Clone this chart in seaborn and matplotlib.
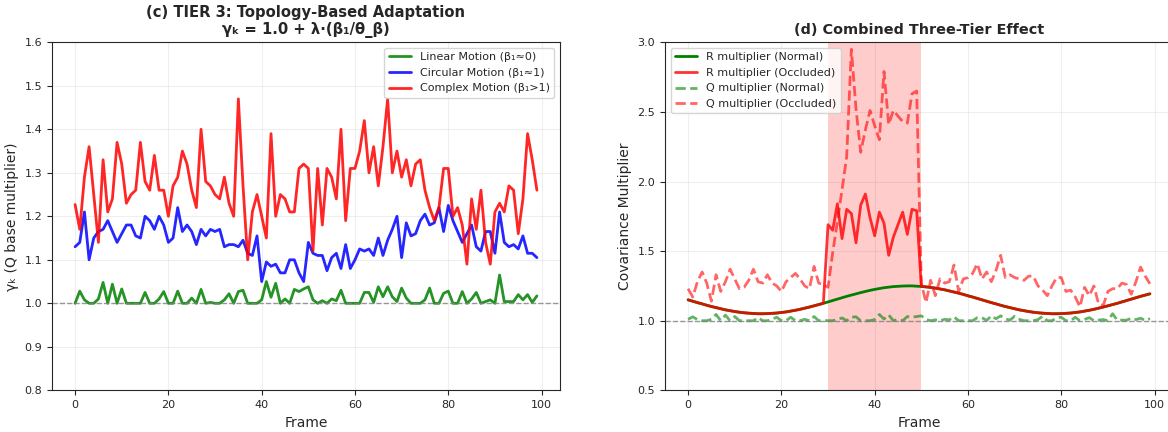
import numpy as np
import matplotlib
matplotlib.use("Agg")
from matplotlib import pyplot as plt
import seaborn as sns

frames = np.arange(100)

# panel (c): topology based gamma per motion type
linear_motion = [1.0, 1.028, 1.008, 1.0, 1.0, 1.01, 1.048, 1.0, 1.044, 1.0,
                 1.033, 1.0, 1.0, 1.0, 1.0, 1.025, 1.0, 1.0, 1.01, 1.027,
                 1.0, 1.0, 1.028, 1.0, 1.0, 1.012, 1.0, 1.032, 1.0, 1.002,
                 1.0, 1.0, 1.008, 1.022, 1.0, 1.027, 1.03, 1.0, 1.0, 1.0,
                 1.008, 1.05, 1.014, 1.046, 1.0, 1.01, 1.0, 1.032, 1.027, 1.033,
                 1.038, 1.008, 1.0, 1.006, 1.0, 1.01, 1.006, 1.03, 1.0, 1.0,
                 1.0, 1.0, 1.025, 1.025, 1.002, 1.038, 1.015, 1.038, 1.015, 1.004,
                 1.035, 1.012, 1.0, 1.0, 1.0, 1.008, 1.035, 1.0, 1.0, 1.023,
                 1.028, 1.0, 1.0, 1.027, 1.0, 1.01, 1.025, 1.0, 1.004, 1.008,
                 1.0, 1.065, 1.004, 1.004, 1.004, 1.02, 1.008, 1.02, 1.002, 1.017]

circular_motion = [1.13, 1.14, 1.21, 1.10, 1.15, 1.165, 1.17, 1.19, 1.165, 1.14,
                   1.16, 1.18, 1.18, 1.155, 1.15, 1.20, 1.19, 1.17, 1.20, 1.18,
                   1.14, 1.15, 1.22, 1.165, 1.18, 1.165, 1.135, 1.17, 1.155, 1.17,
                   1.165, 1.17, 1.13, 1.135, 1.135, 1.13, 1.145, 1.115, 1.11, 1.155,
                   1.05, 1.095, 1.085, 1.09, 1.07, 1.07, 1.10, 1.10, 1.07, 1.05,
                   1.14, 1.115, 1.11, 1.11, 1.075, 1.105, 1.115, 1.08, 1.135, 1.08,
                   1.10, 1.125, 1.12, 1.125, 1.11, 1.15, 1.11, 1.145, 1.17, 1.20,
                   1.105, 1.185, 1.155, 1.16, 1.19, 1.205, 1.18, 1.185, 1.22, 1.165,
                   1.225, 1.19, 1.165, 1.14, 1.16, 1.18, 1.13, 1.12, 1.165, 1.165,
                   1.115, 1.21, 1.14, 1.13, 1.135, 1.125, 1.155, 1.115, 1.115, 1.105]

complex_motion = [1.227, 1.17, 1.29, 1.36, 1.25, 1.14, 1.33, 1.21, 1.24, 1.37,
                  1.32, 1.23, 1.25, 1.26, 1.37, 1.28, 1.26, 1.34, 1.26, 1.26,
                  1.20, 1.27, 1.29, 1.35, 1.32, 1.26, 1.22, 1.40, 1.28, 1.27,
                  1.25, 1.24, 1.29, 1.23, 1.20, 1.47, 1.27, 1.10, 1.21, 1.25,
                  1.20, 1.15, 1.39, 1.20, 1.25, 1.24, 1.21, 1.21, 1.31, 1.32,
                  1.31, 1.12, 1.31, 1.18, 1.31, 1.29, 1.24, 1.40, 1.19, 1.31,
                  1.31, 1.35, 1.42, 1.30, 1.36, 1.27, 1.36, 1.47, 1.30, 1.35,
                  1.29, 1.33, 1.27, 1.32, 1.33, 1.26, 1.22, 1.19, 1.22, 1.31,
                  1.31, 1.20, 1.22, 1.18, 1.09, 1.24, 1.17, 1.26, 1.14, 1.09,
                  1.21, 1.23, 1.21, 1.27, 1.26, 1.16, 1.24, 1.39, 1.33, 1.26]

# panel (d): combined multipliers
r_normal = [1.150, 1.140, 1.130, 1.121, 1.111, 1.102, 1.094, 1.086, 1.078, 1.072,
            1.066, 1.061, 1.057, 1.054, 1.052, 1.050, 1.050, 1.051, 1.053, 1.055,
            1.059, 1.063, 1.069, 1.075, 1.082, 1.090, 1.098, 1.107, 1.116, 1.125,
            1.135, 1.145, 1.155, 1.165, 1.175, 1.184, 1.193, 1.202, 1.210, 1.218,
            1.225, 1.231, 1.237, 1.241, 1.245, 1.247, 1.249, 1.250, 1.250, 1.248,
            1.246, 1.243, 1.239, 1.234, 1.228, 1.222, 1.214, 1.206, 1.198, 1.189,
            1.179, 1.170, 1.160, 1.150, 1.140, 1.130, 1.121, 1.111, 1.102, 1.094,
            1.086, 1.078, 1.072, 1.066, 1.061, 1.057, 1.054, 1.052, 1.050, 1.050,
            1.051, 1.053, 1.055, 1.059, 1.063, 1.069, 1.075, 1.082, 1.090, 1.098,
            1.107, 1.116, 1.125, 1.135, 1.145, 1.155, 1.165, 1.175, 1.184, 1.193]

# R during occlusion (frames 30-49)
r_occlusion_window = [1.69, 1.65, 1.84, 1.59, 1.80, 1.77, 1.56, 1.83, 1.91, 1.74,
                      1.61, 1.78, 1.70, 1.47, 1.60, 1.69, 1.78, 1.62, 1.80, 1.79]
occ_start, occ_end = 30, 50
r_occluded = r_normal[:occ_start] + r_occlusion_window + r_normal[occ_end:]

q_normal = [1.01, 1.028, 1.008, 1.0, 1.0, 1.01, 1.045, 1.0, 1.04, 1.0,
            1.03, 1.0, 1.0, 1.0, 1.0, 1.022, 1.0, 1.0, 1.01, 1.025,
            1.0, 1.0, 1.025, 1.0, 1.0, 1.01, 1.0, 1.03, 1.0, 1.002,
            1.0, 1.0, 1.008, 1.02, 1.0, 1.025, 1.028, 1.0, 1.0, 1.0,
            1.008, 1.045, 1.012, 1.042, 1.0, 1.01, 1.0, 1.03, 1.025, 1.03,
            1.035, 1.008, 1.0, 1.006, 1.0, 1.01, 1.006, 1.028, 1.0, 1.0,
            1.0, 1.0, 1.022, 1.022, 1.002, 1.035, 1.014, 1.035, 1.014, 1.004,
            1.032, 1.01, 1.0, 1.0, 1.0, 1.008, 1.032, 1.0, 1.0, 1.02,
            1.025, 1.0, 1.0, 1.025, 1.0, 1.01, 1.022, 1.0, 1.004, 1.008,
            1.0, 1.05, 1.004, 1.004, 1.004, 1.018, 1.008, 1.018, 1.002, 1.015]

q_occluded = [1.23, 1.17, 1.28, 1.35, 1.27, 1.14, 1.33, 1.21, 1.28, 1.37,
              1.30, 1.23, 1.24, 1.29, 1.37, 1.28, 1.27, 1.33, 1.27, 1.25,
              1.21, 1.28, 1.31, 1.34, 1.30, 1.25, 1.23, 1.39, 1.27, 1.26,
              1.24, 1.49, 1.71, 1.94, 2.18, 2.95, 2.52, 2.21, 2.37, 2.51,
              2.40, 2.30, 2.79, 2.41, 2.51, 2.47, 2.43, 2.42, 2.63, 2.65,
              1.27, 1.13, 1.29, 1.18, 1.30, 1.27, 1.28, 1.40, 1.21, 1.30,
              1.31, 1.34, 1.41, 1.30, 1.35, 1.28, 1.36, 1.47, 1.31, 1.33,
              1.31, 1.30, 1.29, 1.32, 1.32, 1.25, 1.22, 1.18, 1.25, 1.31,
              1.31, 1.21, 1.22, 1.17, 1.10, 1.24, 1.18, 1.25, 1.12, 1.11,
              1.21, 1.23, 1.23, 1.27, 1.26, 1.19, 1.28, 1.385, 1.32, 1.265]

sns.set_style("ticks")
plt.rcParams["font.family"] = ["DejaVu Sans"]

fig = plt.figure(figsize=(11.68, 4.32), dpi=100)
ax1 = fig.add_axes([52 / 1168, 0.0965, 508 / 1168, 0.8056])
ax2 = fig.add_axes([665 / 1168, 0.0965, 508 / 1168, 0.8056])

# ---- (c) TIER 3
sns.lineplot(x=frames, y=linear_motion, ax=ax1, color="green", lw=2, alpha=0.85,
             label="Linear Motion (β₁≈0)")
sns.lineplot(x=frames, y=circular_motion, ax=ax1, color="blue", lw=2, alpha=0.85,
             label="Circular Motion (β₁≈1)")
sns.lineplot(x=frames, y=complex_motion, ax=ax1, color="red", lw=2, alpha=0.85,
             label="Complex Motion (β₁>1)")
ax1.axhline(1.0, color="gray", ls="--", lw=1, alpha=0.8)
ax1.set_ylim(0.8, 1.6)
ax1.set_xticks([0, 20, 40, 60, 80, 100])
ax1.set_yticks([0.8, 0.9, 1.0, 1.1, 1.2, 1.3, 1.4, 1.5, 1.6])
ax1.set_xlabel("Frame", fontsize=10)
ax1.set_ylabel("γₖ (Q base multiplier)", fontsize=10)
ax1.set_title("(c) TIER 3: Topology-Based Adaptation\nγₖ = 1.0 + λ·(β₁/θ_β)",
              fontsize=10.6, fontweight="bold")
ax1.legend(loc="upper right", fontsize=8)
ax1.grid(True, alpha=0.3)
ax1.tick_params(labelsize=8)

# ---- (d) combined
ax2.axvspan(occ_start, occ_end, color="red", alpha=0.2, lw=0)
sns.lineplot(x=frames, y=r_normal, ax=ax2, color="green", lw=2,
             label="R multiplier (Normal)")
sns.lineplot(x=frames, y=r_occluded, ax=ax2, color="red", lw=2, alpha=0.8,
             label="R multiplier (Occluded)")
sns.lineplot(x=frames, y=q_normal, ax=ax2, color="green", lw=2, alpha=0.6,
             ls="--", label="Q multiplier (Normal)")
sns.lineplot(x=frames, y=q_occluded, ax=ax2, color="red", lw=2, alpha=0.6,
             ls="--", label="Q multiplier (Occluded)")
ax2.axhline(1.0, color="gray", ls="--", lw=1, alpha=0.8)
ax2.set_ylim(0.5, 3.0)
ax2.set_xticks([0, 20, 40, 60, 80, 100])
ax2.set_yticks([0.5, 1.0, 1.5, 2.0, 2.5, 3.0])
ax2.set_xlabel("Frame", fontsize=10)
ax2.set_ylabel("Covariance Multiplier", fontsize=10)
ax2.set_title("(d) Combined Three-Tier Effect", fontsize=10.4, fontweight="bold")
ax2.legend(loc="upper left", fontsize=8)
ax2.grid(True, alpha=0.3)
ax2.tick_params(labelsize=8)

fig.savefig("out.png", dpi=100)
